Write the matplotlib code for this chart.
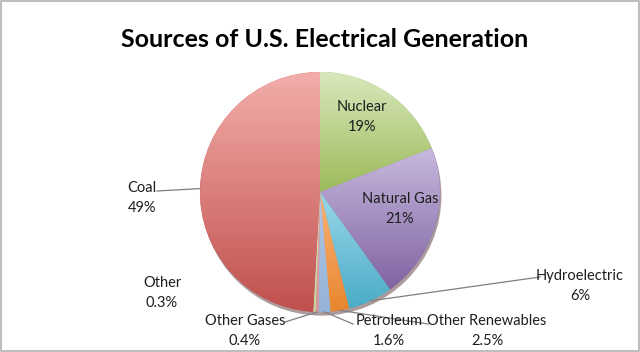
import numpy as np
import matplotlib.pyplot as plt
from matplotlib.colors import LinearSegmentedColormap
from matplotlib.patches import Circle, Rectangle

sources = ["Nuclear", "Natural Gas", "Hydroelectric", "Other Renewables",
           "Petroleum", "Other Gases", "Other", "Coal"]
shares = [19, 21, 6, 2.5, 1.6, 0.4, 0.3, 49]

# (top colour, bottom colour) per slice, Excel-like gradient
grads = [("#d9e8bd", "#9bbb59"), ("#c8bade", "#8064a2"), ("#9ad8ea", "#4bacc6"),
         ("#f9b37a", "#e8862e"), ("#b2c6e6", "#95b3d7"), ("#e6a6a4", "#d99694"),
         ("#dfead0", "#c3d69b"), ("#f3aeab", "#c0504d")]

# label centre (px) and optional leader start (px)
label_pos = {
    "Nuclear": ((362, 117), None),
    "Natural Gas": ((400, 209), None),
    "Hydroelectric": ((580, 286), (540, 277)),
    "Other Renewables": ((487, 331), (428, 324)),
    "Petroleum": ((389, 331), (353, 324)),
    "Other Gases": ((245, 331), (285, 322)),
    "Other": ((162, 293), None),
    "Coal": ((142, 198), (157, 191)),
}

W, H = 640, 352
CX, CY, R = 320, 192, 120


def px(x, y):
    return (x - CX) / R, (CY - y) / R


plt.rcParams["font.family"] = ["Lato", "DejaVu Sans"]
fig = plt.figure(figsize=(6.4, 3.52), dpi=100)
ax = fig.add_axes([0, 0, 1, 1])

# soft shadow / depth under the pie
ax.add_patch(Circle((0.012, -0.03), 1.0, color="#6b4a4a", alpha=0.55, zorder=0.5, lw=0))

wedges, _ = ax.pie(shares, startangle=90, counterclock=False, radius=1,
                   wedgeprops=dict(linewidth=0))

grad = np.linspace(0, 1, 256).reshape(-1, 1)
for w, (top, bot) in zip(wedges, grads):
    w.set_facecolor(bot)
    ext = w.get_path().get_extents()
    cmap = LinearSegmentedColormap.from_list("g", [bot, top])
    im = ax.imshow(grad, cmap=cmap, origin="lower", aspect="auto",
                   extent=(ext.x0, ext.x1, ext.y0, ext.y1), zorder=w.get_zorder() + 0.1)
    im.set_clip_path(w)

for w, name, val in zip(wedges, sources, shares):
    (tx, ty), lead = label_pos[name]
    ax.text(*px(tx, ty), f"{name}\n{val:g}%", ha="center", va="center",
            fontsize=10.5, color="#1e1e1e", linespacing=1.6, zorder=5)
    if lead is not None:
        mid = np.deg2rad((w.theta1 + w.theta2) / 2)
        x0, y0 = px(*lead)
        ax.plot([x0, np.cos(mid)], [y0, np.sin(mid)], color="#7f7f7f", lw=0.9, zorder=4)

ax.text(*px(325, 39), "Sources of U.S. Electrical Generation", ha="center", va="center",
        fontsize=18, fontweight="bold", color="black")

ax.set_xlim(-CX / R, (W - CX) / R)
ax.set_ylim(-(H - CY) / R, CY / R)
ax.axis("off")

fig.patches.append(Rectangle((0.001, 0.002), 0.997, 0.995, transform=fig.transFigure,
                             fill=False, edgecolor="#bfbfbf", lw=1.5))
fig.savefig("out.png", dpi=100)
